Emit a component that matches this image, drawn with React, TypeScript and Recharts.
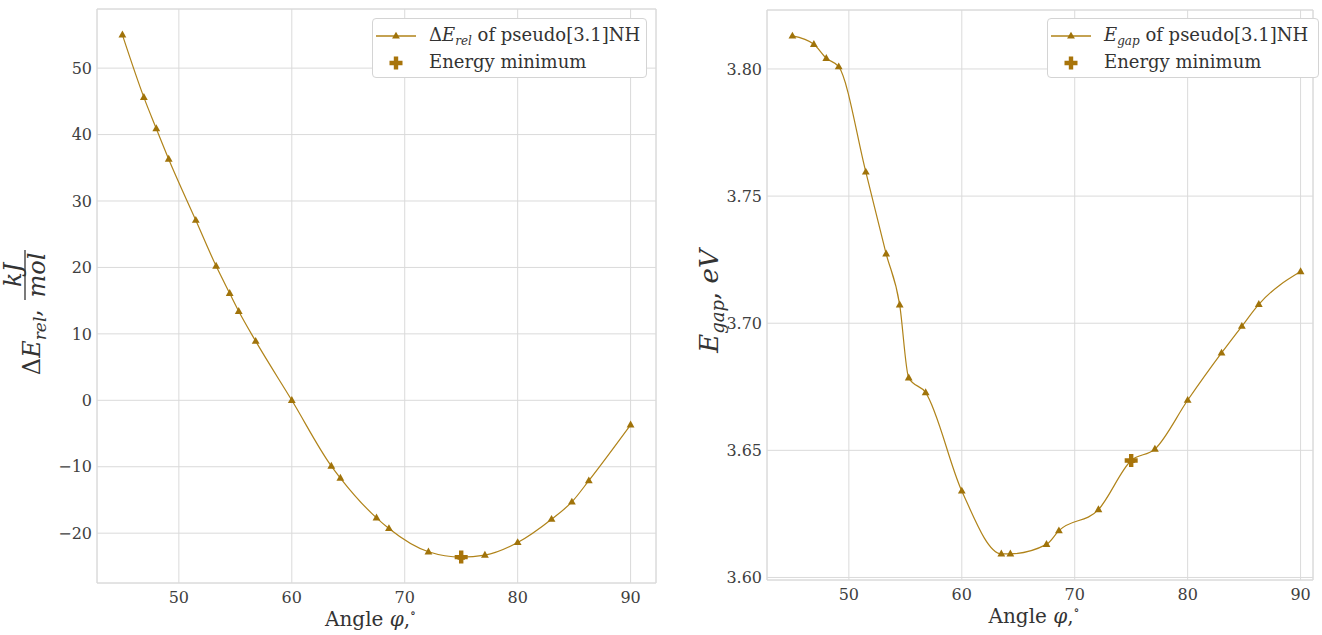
import React from "react";
import {
  ComposedChart,
  Line,
  XAxis,
  YAxis,
  CartesianGrid,
  Legend,
  ReferenceArea,
} from "recharts";

// scan angles, degrees
const angles = [
  45, 46.9, 48, 49.1, 51.5, 53.3, 54.5, 55.3, 56.8, 60, 63.5, 64.3, 67.5, 68.6,
  72.1, 75, 77.1, 80, 83, 84.8, 86.3, 90,
];

// relative energy, kJ/mol
const relEnergy = [
  55.0, 45.6, 40.9, 36.3, 27.1, 20.2, 16.1, 13.4, 8.9, 0, -9.9, -11.7, -17.7,
  -19.3, -22.8, -23.6, -23.3, -21.4, -17.9, -15.3, -12.1, -3.7,
];

// HOMO-LUMO gap, eV
const gapEnergy = [
  3.813, 3.8097, 3.8042, 3.8009, 3.7595, 3.7273, 3.7072, 3.6785, 3.6727, 3.634,
  3.6093, 3.6093, 3.613, 3.6184, 3.6267, 3.646, 3.6505, 3.6697, 3.6883, 3.6988,
  3.7074, 3.7203,
];

const minAngle = 75;
const minRelEnergy = -23.6;
const minGapEnergy = 3.646;

const angleTicks = [50, 60, 70, 80, 90];
const relTicks = [-20, -10, 0, 10, 20, 30, 40, 50];
const gapTicks = [3.6, 3.65, 3.7, 3.75, 3.8];

const relRows = angles.map((a, i) => ({ angle: a, value: relEnergy[i] }));
const gapRows = angles.map((a, i) => ({ angle: a, value: gapEnergy[i] }));
const relMin = [{ angle: minAngle, value: minRelEnergy }];
const gapMin = [{ angle: minAngle, value: minGapEnergy }];

const SERIF = "'DejaVu Serif', serif";
const LINE = "#b08319";
const MARK = "#a0730a";
const PLUS = "#a8740a";
const GRID = "#dadada";
const TICK = "#404040";
const LABEL = "#333";

const triangleDot = (p: any) => {
  const { cx, cy, index } = p;
  if (cx == null || cy == null) return <g key={`t${index}`} />;
  return (
    <path
      key={`t${index}`}
      d={`M${cx},${cy - 4.3} L${cx + 3.9},${cy + 2.6} L${cx - 3.9},${cy + 2.6} Z`}
      fill={MARK}
    />
  );
};

const plusPath = (cx: number, cy: number, a = 6.5, t = 2.2) =>
  `M${cx - t},${cy - a} H${cx + t} V${cy - t} H${cx + a} V${cy + t} H${cx + t} V${cy + a} H${cx - t} V${cy + t} H${cx - a} V${cy - t} H${cx - t} Z`;

const plusDot = (p: any) => {
  const { cx, cy, index } = p;
  if (cx == null || cy == null) return <g key={`p${index}`} />;
  return <path key={`p${index}`} d={plusPath(cx, cy)} fill={PLUS} />;
};

const relTickFmt = (v: number) => (v < 0 ? `\u2212${Math.abs(v)}` : `${v}`);
const gapTickFmt = (v: number) => v.toFixed(2);

const tickStyle = { fill: TICK, fontSize: 16, fontFamily: SERIF };

const AngleLabel = (props: any) => {
  const vb = props.viewBox;
  return (
    <text
      x={vb.x + vb.width / 2 - 6}
      y={vb.y + 43}
      textAnchor="middle"
      fontFamily={SERIF}
      fontSize={20}
      fill={LABEL}
    >
      Angle <tspan fontStyle="italic">φ</tspan>,
      <tspan fontSize={12} dy={-9}>
        ∘
      </tspan>
    </text>
  );
};

const RelLabel = (props: any) => {
  const vb = props.viewBox;
  const x0 = vb.x + 40;
  const y0 = vb.y + vb.height / 2 + 25;
  return (
    <g transform={`translate(${x0}, ${y0}) rotate(-90)`} fontFamily={SERIF} fill={LABEL}>
      <text x={12} y={0} textAnchor="end" fontSize={24}>
        Δ<tspan fontStyle="italic">E</tspan>
        <tspan fontStyle="italic" fontSize={17} dy={6}>
          rel
        </tspan>
        <tspan dy={-6}>,</tspan>
      </text>
      <text x={46} y={-19} textAnchor="middle" fontSize={24} fontStyle="italic">
        kJ
      </text>
      <line x1={21} x2={71} y1={-15} y2={-15} stroke={LABEL} strokeWidth={1.3} />
      <text x={46} y={5} textAnchor="middle" fontSize={24} fontStyle="italic">
        mol
      </text>
    </g>
  );
};

const GapLabel = (props: any) => {
  const vb = props.viewBox;
  const x0 = vb.x + 38;
  const y0 = vb.y + vb.height / 2 + 6;
  return (
    <g transform={`translate(${x0}, ${y0}) rotate(-90)`}>
      <text x={0} y={0} textAnchor="middle" fontFamily={SERIF} fontSize={26} fill={LABEL}>
        <tspan fontStyle="italic">E</tspan>
        <tspan fontStyle="italic" fontSize={18} dy={6}>
          gap
        </tspan>
        <tspan dy={-6}>, </tspan>
        <tspan fontStyle="italic">eV</tspan>
      </text>
    </g>
  );
};

const LegendBox = ({ width, name, sub }: { width: number; name: string; sub: string }) => (
  <div
    style={{
      position: "relative",
      width,
      height: 60,
      boxSizing: "border-box",
      background: "#fff",
      border: "1px solid #d4d4d4",
      borderRadius: 4,
      fontFamily: SERIF,
      fontSize: 18,
      color: LABEL,
      whiteSpace: "nowrap",
    }}
  >
    <svg width={40} height={12} style={{ position: "absolute", left: 3, top: 11 }}>
      <line x1={0} x2={40} y1={6} y2={6} stroke={LINE} strokeWidth={1.3} />
      <path d="M20,1.7 L23.9,8.6 L16.1,8.6 Z" fill={MARK} />
    </svg>
    <div style={{ position: "absolute", left: 56, top: 4, lineHeight: "24px" }}>
      {name}
      <i>E</i>
      <i style={{ fontSize: 12, position: "relative", top: 4 }}>{sub}</i> of pseudo[3.1]NH
    </div>
    <svg width={16} height={16} style={{ position: "absolute", left: 15, top: 36 }}>
      <path d={plusPath(8, 8)} fill={PLUS} />
    </svg>
    <div style={{ position: "absolute", left: 56, top: 31, lineHeight: "24px" }}>
      Energy minimum
    </div>
  </div>
);

export default function App() {
  return (
    <div
      style={{
        position: "fixed",
        left: 0,
        top: 0,
        width: 1322,
        height: 635,
        background: "#fff",
        overflow: "hidden",
      }}
    >
      <div style={{ position: "absolute", left: 0, top: 0 }}>
        <ComposedChart width={680} height={635} margin={{ top: 9, right: 24, bottom: 0, left: 0 }}>
          <CartesianGrid stroke={GRID} />
          <ReferenceArea
            x1={42.75}
            x2={92.25}
            y1={-27.5}
            y2={58.9}
            fill="none"
            stroke={GRID}
            ifOverflow="visible"
          />
          <XAxis
            dataKey="angle"
            type="number"
            domain={[42.75, 92.25]}
            allowDataOverflow
            ticks={angleTicks}
            tickSize={0}
            tickMargin={9}
            axisLine={false}
            tick={tickStyle}
            height={52}
            label={AngleLabel}
          />
          <YAxis
            type="number"
            domain={[-27.5, 58.9]}
            allowDataOverflow
            ticks={relTicks}
            tickFormatter={relTickFmt}
            tickSize={0}
            tickMargin={5}
            axisLine={false}
            tick={tickStyle}
            width={97}
            label={RelLabel}
          />
          <Legend
            verticalAlign="middle"
            align="center"
            wrapperStyle={{ left: 372, top: 18, width: 275, height: 60 }}
            content={() => <LegendBox width={275} name="Δ" sub="rel" />}
          />
          <Line
            data={relRows}
            dataKey="value"
            type="monotone"
            stroke={LINE}
            strokeWidth={1.2}
            dot={triangleDot}
            activeDot={false}
            isAnimationActive={false}
          />
          <Line
            data={relMin}
            dataKey="value"
            stroke="none"
            dot={plusDot}
            activeDot={false}
            isAnimationActive={false}
          />
        </ComposedChart>
      </div>
      <div style={{ position: "absolute", left: 680, top: 0 }}>
        <ComposedChart width={642} height={635} margin={{ top: 10, right: 9, bottom: 0, left: 0 }}>
          <CartesianGrid stroke={GRID} />
          <ReferenceArea
            x1={42.75}
            x2={91.1}
            y1={3.599}
            y2={3.8232}
            fill="none"
            stroke={GRID}
            ifOverflow="visible"
          />
          <XAxis
            dataKey="angle"
            type="number"
            domain={[42.75, 91.1]}
            allowDataOverflow
            ticks={angleTicks}
            tickSize={0}
            tickMargin={9}
            axisLine={false}
            tick={tickStyle}
            height={55}
            label={AngleLabel}
          />
          <YAxis
            type="number"
            domain={[3.599, 3.8232]}
            allowDataOverflow
            ticks={gapTicks}
            tickFormatter={gapTickFmt}
            tickSize={0}
            tickMargin={5}
            axisLine={false}
            tick={tickStyle}
            width={87}
            label={GapLabel}
          />
          <Legend
            verticalAlign="middle"
            align="center"
            wrapperStyle={{ left: 367, top: 18, width: 272, height: 60 }}
            content={() => <LegendBox width={272} name="" sub="gap" />}
          />
          <Line
            data={gapRows}
            dataKey="value"
            type="monotone"
            stroke={LINE}
            strokeWidth={1.2}
            dot={triangleDot}
            activeDot={false}
            isAnimationActive={false}
          />
          <Line
            data={gapMin}
            dataKey="value"
            stroke="none"
            dot={plusDot}
            activeDot={false}
            isAnimationActive={false}
          />
        </ComposedChart>
      </div>
    </div>
  );
}
